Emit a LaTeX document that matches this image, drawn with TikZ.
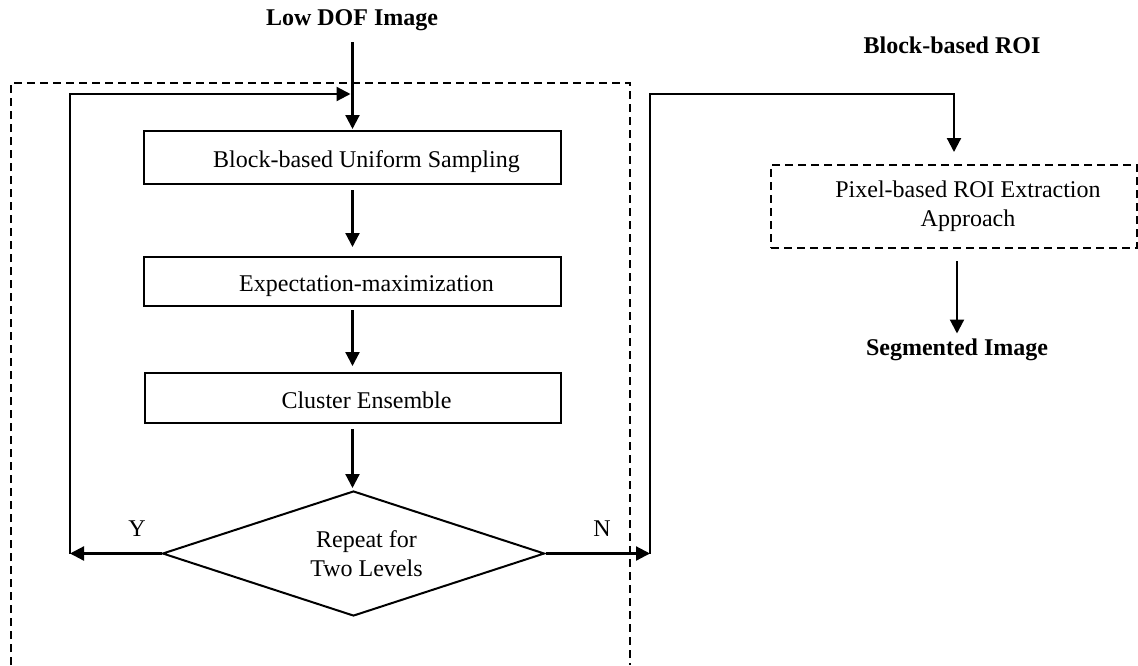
\documentclass[tikz,border=0pt]{standalone}
\usepackage{fontspec}
\setmainfont{Liberation Serif}
\usetikzlibrary{arrows.meta,shapes.geometric}
\begin{document}
\begin{tikzpicture}[x=1pt,y=-1pt,
  font=\fontsize{24}{29}\selectfont,
  box/.style={draw, line width=2pt, minimum width=417pt, minimum height=50pt, inner sep=0pt,
    text height=20pt, text depth=0pt},
  choice/.style={diamond, draw, line width=2pt, aspect=3, inner sep=0pt, align=center},
  frame/.style={line width=2pt, dash pattern=on 8pt off 5pt},
  flow/.style={line width=2.2pt, -{Triangle[length=14pt,width=14pt]}},
  heading/.style={font=\fontsize{24}{29}\selectfont\bfseries}
]
\useasboundingbox (0,0) rectangle (1138,665);

% dashed frame around the block-based stage (open at the bottom)
\coordinate (fa) at (11,665);
\coordinate (fb) at (11,83);
\coordinate (fc) at (630,83);
\coordinate (fd) at (630,665);
\draw[frame] (fa) -- (fb) -- (fc) -- (fd);

% titles
\node[heading] (low) at (352,20) {Low DOF Image};
\node[heading] (broi) at (952,45) {Block-based ROI};
\node[heading] (seg) at (957,350) {Segmented Image};

% processing steps
\node[box, minimum height=53pt] (b1) at (352.5,157.5) {\hspace*{28pt}Block-based Uniform Sampling};
\node[box, minimum height=49pt] (b2) at (352.5,281.5) {\hspace*{28pt}Expectation-maximization};
\node[box, minimum width=416pt] (b3) at (352.5,398) {\hspace*{28pt}Cluster Ensemble};
\node[choice, minimum width=382pt, minimum height=125pt] (dec) at (353.5,553.5)
  {\hspace*{26pt}Repeat for\\\hspace*{26pt}Two Levels};
\node[draw, frame, minimum width=366pt, minimum height=83pt, inner sep=0pt, align=center] (pix) at (954,206.5)
  {\hspace*{28pt}Pixel-based ROI Extraction\\\hspace*{28pt}Approach};

% branch labels
\node (yes) at (137,529) {Y};
\node (no) at (602,529) {N};

% connectors
\coordinate (in) at (352.5,42);
\coordinate (yl) at (70,553.5);
\coordinate (yt) at (352.5,94);
\coordinate (nr) at (650,553.5);
\coordinate (nt) at (954,94);

\draw[flow, shorten >=1pt] (in) -- (b1.north);
\draw[flow, shorten <=5pt, shorten >=9pt] (b1.south) -- (b2.north);
\draw[flow, shorten <=3pt, shorten >=6pt] (b2.south) -- (b3.north);
\draw[flow, shorten <=5pt, shorten >=2pt] (b3.south) -- (b3.south |- dec.north);
\draw[flow] (dec.west) -- (yl);
\draw[flow, shorten >=2pt] (yl) |- (yt);
\draw[flow] (dec.east) -- (nr);
\draw[flow, shorten >=12pt] (nr) |- (nt) -- (pix.north);
\draw[flow, shorten <=12pt, shorten >=2pt] (pix.south -| seg.north) -- (seg.north);
\end{tikzpicture}
\end{document}
